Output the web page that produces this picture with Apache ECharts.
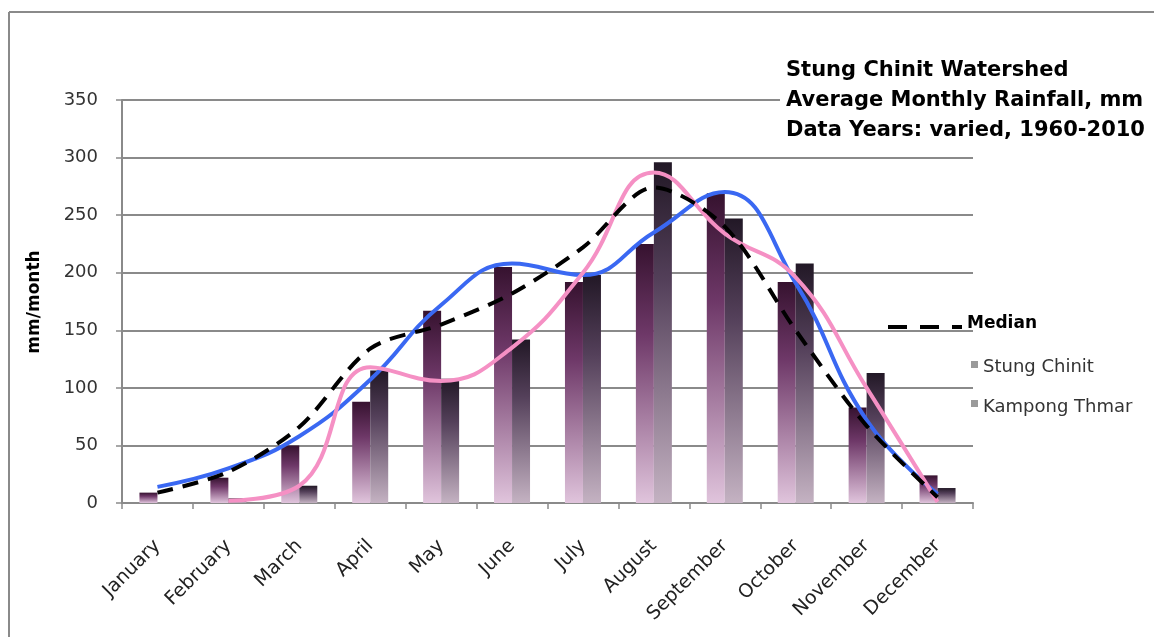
<!DOCTYPE html>
<html><head><meta charset="utf-8">
<script src="https://cdn.jsdelivr.net/npm/echarts@6/dist/echarts.min.js"></script>
<style>html,body{margin:0;padding:0;background:#fff}#c{width:1154px;height:637px}</style>
</head><body><div id="c"></div>
<script>
const months = ['January','February','March','April','May','June','July','August','September','October','November','December'];
const stungChinit = [9, 22, 50, 88, 167, 205, 192, 225, 269, 192, 83, 24];
const kampongThmar = [0, 4, 15, 115, 108, 142, 198, 296, 247, 208, 113, 13];
const stungChinitCurve = [14, 30, 58, 107, 172, 208, 198, 235, 270, 191, 72, 8];
const kampongThmarCurve = [null, 2, 15, 118, 106, 135, 200, 287, 234, 196, 100, 1];
const median = [9, 27, 66, 134, 155, 182, 222, 274, 240, 150, 67, 5];
const titleLines = ['Stung Chinit Watershed', 'Average Monthly Rainfall, mm', 'Data Years: varied, 1960-2010'];
const yName = 'mm/month';

const FONT = 'DejaVu Sans';
const chart = echarts.init(document.getElementById('c'));

function grad(top, mid, bottom) {
  return new echarts.graphic.LinearGradient(0, 0, 0, 1, [
    {offset: 0, color: top}, {offset: 0.35, color: mid}, {offset: 1, color: bottom}
  ]);
}

chart.setOption({
  animation: false,
  backgroundColor: '#fff',
  grid: {left: 122, right: 181, top: 100, bottom: 134},
  xAxis: {
    type: 'category', data: months, boundaryGap: true,
    axisLine: {lineStyle: {color: '#8a8a8a', width: 2}},
    axisTick: {show: true, length: 6, lineStyle: {color: '#8a8a8a', width: 1.5}},
    axisLabel: {rotate: 45, margin: 40, color: '#222', fontFamily: FONT, fontSize: 19}
  },
  yAxis: {
    type: 'value', min: 0, max: 350, interval: 50,
    axisLine: {show: true, lineStyle: {color: '#8a8a8a', width: 2}},
    axisTick: {show: true, length: 6, lineStyle: {color: '#8a8a8a', width: 1.5}},
    splitLine: {lineStyle: {color: '#8a8a8a', width: 2}},
    axisLabel: {color: '#333', fontFamily: FONT, fontSize: 18, margin: 24}
  },
  series: [
    {name: 'Stung Chinit', type: 'bar', data: stungChinit, barWidth: 18, barGap: '0%',
     itemStyle: {color: grad('#36122f', '#6e3868', '#e0c4dc')}},
    {name: 'Kampong Thmar', type: 'bar', data: kampongThmar, barWidth: 18,
     itemStyle: {color: grad('#221826', '#54405a', '#c4b2c2')}},
    {name: 'Stung Chinit curve', type: 'line', data: stungChinitCurve, smooth: 0.45, showSymbol: false,
     lineStyle: {color: '#3a68f2', width: 4}},
    {name: 'Kampong Thmar curve', type: 'line', data: kampongThmarCurve, smooth: 0.45, showSymbol: false,
     lineStyle: {color: '#f590c4', width: 4}},
    {name: 'Median', type: 'line', data: median, smooth: 0.3, showSymbol: false,
     lineStyle: {color: '#000', width: 4, type: [16, 10]}}
  ],
  graphic: [
    {type: 'line', z: 100, shape: {x1: 9, y1: 12, x2: 1154, y2: 12}, style: {stroke: '#8a8a8a', lineWidth: 2}},
    {type: 'line', z: 100, shape: {x1: 9, y1: 12, x2: 9, y2: 637}, style: {stroke: '#8a8a8a', lineWidth: 2}},
    {type: 'text', z: 100, left: 780, top: 52, style: {text: titleLines.join('\n'), font: 'bold 21px "DejaVu Sans"', fill: '#000', lineHeight: 30, backgroundColor: '#fff', padding: [4, 6, 6, 6]}},
    {type: 'text', z: 100, x: 35, y: 302, rotation: Math.PI / 2, style: {text: yName, font: 'bold 17px "DejaVu Sans"', fill: '#000', align: 'center', verticalAlign: 'middle'}},
    {type: 'line', z: 100, shape: {x1: 888, y1: 327, x2: 962, y2: 327}, style: {stroke: '#000', lineWidth: 4, lineDash: [19, 13]}},
    {type: 'text', z: 100, x: 967, y: 324, style: {text: 'Median', font: 'bold 17px "DejaVu Sans"', fill: '#000', verticalAlign: 'middle'}},
    {type: 'rect', z: 100, shape: {x: 971, y: 361, width: 7, height: 7}, style: {fill: '#9a9a9a'}},
    {type: 'text', z: 100, x: 983, y: 367, style: {text: 'Stung Chinit', font: '18px "DejaVu Sans"', fill: '#333', verticalAlign: 'middle'}},
    {type: 'rect', z: 100, shape: {x: 971, y: 400, width: 7, height: 7}, style: {fill: '#9a9a9a'}},
    {type: 'text', z: 100, x: 983, y: 407, style: {text: 'Kampong Thmar', font: '18px "DejaVu Sans"', fill: '#333', verticalAlign: 'middle'}}
  ]
});
</script></body></html>
